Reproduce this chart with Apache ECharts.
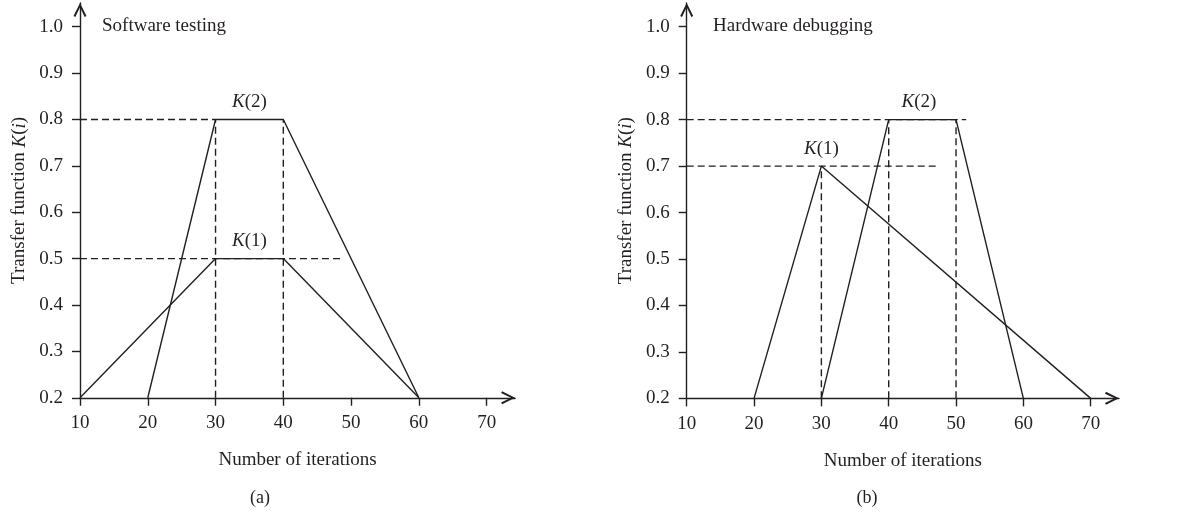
<!DOCTYPE html>
<html><head><meta charset="utf-8">
<script src="https://cdn.jsdelivr.net/npm/echarts@6/dist/echarts.min.js"></script>
<style>html,body{margin:0;padding:0;background:#fff}#c{width:1203px;height:513px}</style>
</head><body><div id="c"></div>
<script>
// ---- data ----
var xTicks = [10, 20, 30, 40, 50, 60, 70];
var yTicks = [0.2, 0.3, 0.4, 0.5, 0.6, 0.7, 0.8, 0.9, 1.0];

// (a) Software testing
var swK1 = [[10, 0.2], [30, 0.5], [40, 0.5], [60, 0.2]];
var swK2 = [[20, 0.2], [30, 0.8], [40, 0.8], [60, 0.2]];
var swGuides = [
  [[10, 0.8], [30, 0.8]],
  [[10, 0.5], [48.8, 0.5]],
  [[30, 0.2], [30, 0.8]],
  [[40, 0.2], [40, 0.8]]
];
var swLabels = [{ text: 'K(2)', x: 35, y: 0.8 }, { text: 'K(1)', x: 35, y: 0.5 }];

// (b) Hardware debugging
var hwK1 = [[20, 0.2], [30, 0.7], [70, 0.2]];
var hwK2 = [[30, 0.2], [40, 0.8], [50, 0.8], [60, 0.2]];
var hwGuides = [
  [[10, 0.8], [51.5, 0.8]],
  [[10, 0.7], [47.5, 0.7]],
  [[30, 0.2], [30, 0.7]],
  [[40, 0.2], [40, 0.8]],
  [[50, 0.2], [50, 0.8]]
];
var hwLabels = [{ text: 'K(1)', x: 30, y: 0.7 }, { text: 'K(2)', x: 44.5, y: 0.8 }];

var titles = ['Software testing', 'Hardware debugging'];
var captions = ['(a)', '(b)'];
var xName = 'Number of iterations';

// ---- styling ----
var INK = '#231f20';
var FONT = "'Liberation Serif', 'Times New Roman', serif";
var FS = 19;
var LW = 1.4;
var chevron = 'path://M0,13 L6.5,0 L13,13 L11.2,14 L6.5,4.2 L1.8,14 Z';

function xAxisFor(gi) {
  return {
    type: 'value', gridIndex: gi, min: 10, max: 74.2,
    axisLine: { show: true, onZero: false, symbol: ['none', chevron], symbolSize: [13, 14], symbolOffset: [0, -7],
      lineStyle: { color: INK, width: LW } },
    axisTick: { show: true, length: 8, customValues: xTicks, lineStyle: { color: INK, width: LW } },
    axisLabel: { customValues: xTicks, margin: 16, color: INK, fontFamily: FONT, fontSize: FS },
    splitLine: { show: false },
    name: xName, nameLocation: 'middle', nameGap: 53,
    nameTextStyle: { color: INK, fontFamily: FONT, fontSize: FS }
  };
}
function yAxisFor(gi) {
  return {
    type: 'value', gridIndex: gi, min: 0.2, max: 1.051,
    axisLine: { show: true, onZero: false, symbol: ['none', chevron], symbolSize: [13, 14], symbolOffset: [0, -7],
      lineStyle: { color: INK, width: LW } },
    axisTick: { show: true, length: 8, customValues: yTicks, lineStyle: { color: INK, width: LW } },
    axisLabel: { customValues: yTicks, margin: 17, color: INK, fontFamily: FONT, fontSize: FS,
      formatter: function (v) { return v.toFixed(1); } },
    splitLine: { show: false },
    name: 'Transfer function {i|K}({i|i})', nameLocation: 'middle', nameGap: 51,
    nameTextStyle: { color: INK, fontFamily: FONT, fontSize: FS,
      rich: { i: { fontStyle: 'italic', color: INK, fontFamily: FONT, fontSize: FS } } }
  };
}

function solid(data, gi) {
  return { type: 'line', xAxisIndex: gi, yAxisIndex: gi, data: data, symbol: 'none', clip: false,
    lineStyle: { color: INK, width: LW }, silent: true, z: 3 };
}
function dashed(data, gi) {
  return { type: 'line', xAxisIndex: gi, yAxisIndex: gi, data: data, symbol: 'none', clip: false,
    lineStyle: { color: INK, width: LW, type: [7, 4] }, silent: true, z: 2 };
}
function labels(arr, gi) {
  return { type: 'scatter', xAxisIndex: gi, yAxisIndex: gi, symbolSize: 0, silent: true, clip: false,
    itemStyle: { opacity: 1, color: INK },
    data: arr.map(function (d) { return { value: [d.x, d.y], name: d.text }; }),
    label: { show: true, position: 'top', distance: 8, color: INK, fontFamily: FONT, fontSize: FS,
      formatter: function (p) { return p.name.replace(/^K/, '{i|K}'); },
      rich: { i: { fontStyle: 'italic', color: INK, fontFamily: FONT, fontSize: FS } } } };
}

var series = [];
[[swK1, swK2, swGuides, swLabels], [hwK1, hwK2, hwGuides, hwLabels]].forEach(function (set, gi) {
  series.push(solid(set[0], gi));
  series.push(solid(set[1], gi));
  set[2].forEach(function (g) { series.push(dashed(g, gi)); });
  series.push(labels(set[3], gi));
});

var chart = echarts.init(document.getElementById('c'), null, { renderer: 'canvas' });
chart.setOption({
  animation: false,
  backgroundColor: '#fff',
  grid: [
    { left: 80, top: 3.05, width: 435.1, height: 394.7, containLabel: false },
    { left: 686.7, top: 3.05, width: 432.3, height: 395.3, containLabel: false }
  ],
  xAxis: [xAxisFor(0), xAxisFor(1)],
  yAxis: [yAxisFor(0), yAxisFor(1)],
  title: [
    { text: titles[0], left: 102, top: 17, textStyle: { color: INK, fontFamily: FONT, fontSize: FS, fontWeight: 'normal' }, padding: 0 },
    { text: titles[1], left: 713, top: 17, textStyle: { color: INK, fontFamily: FONT, fontSize: FS, fontWeight: 'normal' }, padding: 0 },
    { text: captions[0], left: 260, top: 489, textAlign: 'center', textStyle: { color: INK, fontFamily: FONT, fontSize: 18, fontWeight: 'normal' }, padding: 0 },
    { text: captions[1], left: 867, top: 489, textAlign: 'center', textStyle: { color: INK, fontFamily: FONT, fontSize: 18, fontWeight: 'normal' }, padding: 0 }
  ],
  series: series
});
</script></body></html>
